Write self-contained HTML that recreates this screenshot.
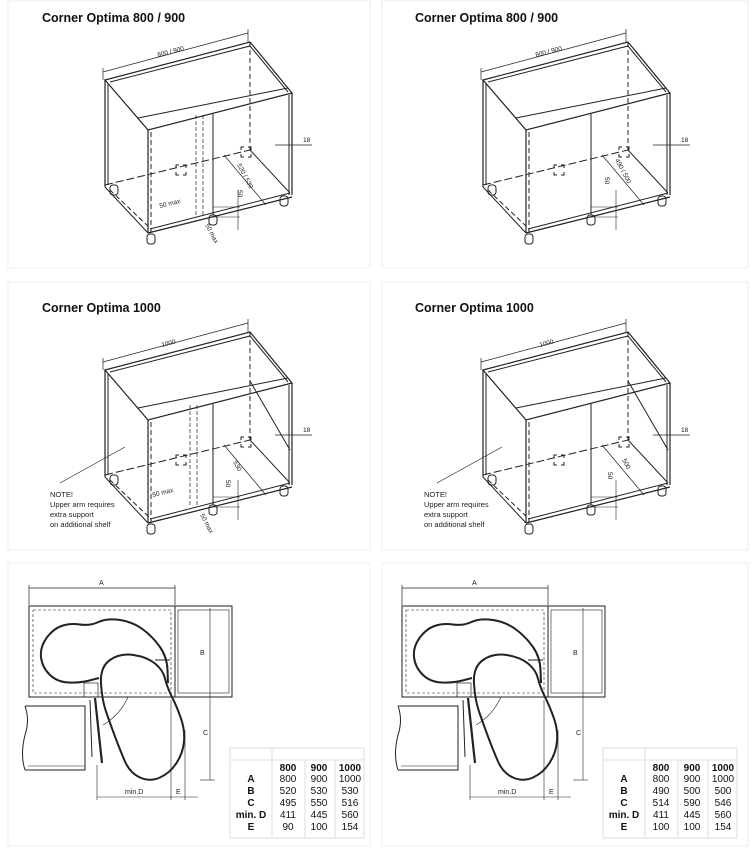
<!DOCTYPE html>
<html><head><meta charset="utf-8"><style>
html,body{margin:0;padding:0;background:#fff;}
svg{display:block;font-family:"Liberation Sans",sans-serif;}
</style></head><body>
<svg width="756" height="850" viewBox="0 0 756 850" xmlns="http://www.w3.org/2000/svg">
<defs>
<g id="cab" fill="none" stroke="#222" stroke-width="1">
  <line x1="103" y1="72" x2="248" y2="33" stroke-width="0.7"/>
  <line x1="103" y1="68" x2="103" y2="80" stroke-width="0.7"/>
  <line x1="248" y1="29" x2="248" y2="42" stroke-width="0.7"/>
  <polygon points="105,80 250,42 292,93 148,130" stroke-width="1.2"/>
  <polyline points="110,82 250,46 288,92"/>
  <line x1="138" y1="118" x2="288" y2="88"/>
  <line x1="105" y1="80" x2="105" y2="187" stroke-width="1.2"/>
  <line x1="108" y1="84" x2="108" y2="185"/>
  <line x1="148" y1="130" x2="148" y2="233" stroke-width="1.2"/>
  <line x1="151" y1="132" x2="151" y2="232" stroke-dasharray="5,3"/>
  <line x1="292" y1="93" x2="292" y2="195" stroke-width="1.2"/>
  <line x1="289" y1="95" x2="289" y2="195"/>
  <line x1="250" y1="42" x2="250" y2="150" stroke-dasharray="5,3"/>
  <line x1="213" y1="114" x2="213" y2="215" stroke-width="1"/>
  <line x1="148" y1="233" x2="292" y2="197" stroke-width="1.2"/>
  <line x1="150" y1="229" x2="290" y2="193"/>
  <line x1="105" y1="187" x2="148" y2="233"/>
  <line x1="110" y1="190" x2="150" y2="228" stroke-dasharray="5,3"/>
  <line x1="105" y1="185" x2="250" y2="150" stroke-dasharray="8,3"/>
  <line x1="250" y1="150" x2="290" y2="193"/>
  <line x1="224" y1="155" x2="266" y2="205" stroke-width="0.7"/>
  <line x1="275" y1="145" x2="312" y2="145" stroke-width="0.7"/>
  <line x1="213" y1="207" x2="240" y2="207" stroke-width="0.6"/>
  <line x1="213" y1="217" x2="240" y2="217" stroke-width="0.6"/>
  <line x1="238" y1="190" x2="238" y2="230" stroke-width="0.6"/>
  <rect x="110" y="185" width="8" height="10" rx="3"/>
  <rect x="147" y="234" width="8" height="10" rx="3"/>
  <rect x="209" y="215" width="8" height="10" rx="3"/>
  <rect x="280" y="196" width="8" height="10" rx="3"/>
  <path d="M176 168 v-3 h3 M183 165 h3 v3 M176 172 v3 h3 M186 172 v3 h-3" />
  <path d="M241 150 v-3 h3 M248 147 h3 v3 M241 154 v3 h3 M251 154 v3 h-3" />
</g>
<g id="plan" fill="none" stroke="#222">
  <line x1="29" y1="588" x2="175" y2="588" stroke-width="0.7"/>
  <line x1="29" y1="585" x2="29" y2="605" stroke-width="0.7"/>
  <line x1="175" y1="585" x2="175" y2="605" stroke-width="0.7"/>
  <rect x="29" y="606" width="146" height="91" stroke-width="1"/>
  <rect x="33" y="610" width="138" height="83" stroke-width="0.6" stroke-dasharray="3,2"/>
  <rect x="175" y="606" width="57" height="91" stroke-width="1"/>
  <rect x="178" y="610" width="51" height="83" stroke-width="0.6"/>
  <path d="M25 706 H85 V770 H25 M25 706 Q30 720 25 735 Q20 755 25 770" stroke-width="1"/>
  <path d="M28 766 H85" stroke-width="0.6"/>
  <rect x="84" y="683" width="14" height="14" stroke-width="0.7"/>
  <path d="M99 678 L89.5 680.5 Q80 683 68.5 682.5 Q57 682 49.5 674.5 Q42 667 41 657 Q40 647 46.5 638 Q53 629 61.5 626 Q70 623 80 624.5 Q90 626 98.5 622 Q107 618 120 620 Q133 622 143 629.5 Q153 637 160 647 Q167 657 167.5 670 L168 683" stroke-width="2"/>
  <path d="M110 660 Q120 653 133.5 655 Q147 657 155 663.5 Q163 670 165 678.5 Q167 687 172 697 Q177 707 181 718.5 Q185 730 184 741.5 Q183 753 176.5 763 Q170 773 160 777.5 Q150 782 140 777.5 Q130 773 125 761.5 Q120 750 115 736.5 Q110 723 106 711.5 Q102 700 101 683.5 Q100 667 110 660 Z" stroke-width="2"/>
  <line x1="155" y1="660" x2="170" y2="660" stroke-width="1"/>
  <line x1="95" y1="698" x2="102" y2="763" stroke-width="2.2"/>
  <line x1="90" y1="700" x2="92" y2="757" stroke-width="1"/>
  <line x1="210" y1="608" x2="210" y2="697" stroke-width="0.6"/>
  <line x1="210" y1="697" x2="210" y2="780" stroke-width="0.6"/>
  <line x1="200" y1="780" x2="215" y2="780" stroke-width="0.6"/>
  <line x1="97" y1="797" x2="198" y2="797" stroke-width="0.6"/>
  <line x1="97" y1="765" x2="97" y2="800" stroke-width="0.6"/>
  <line x1="171" y1="700" x2="171" y2="800" stroke-width="0.6"/>
  <line x1="185" y1="730" x2="185" y2="800" stroke-width="0.6"/>
  <path d="M103 725 Q120 715 128 697" stroke-width="0.6"/>
</g>
</defs>
<g fill="none" stroke="#eee">
  <rect x="8" y="1" width="362" height="267"/>
  <rect x="382" y="1" width="366" height="267"/>
  <rect x="8" y="282" width="362" height="268"/>
  <rect x="382" y="282" width="366" height="268"/>
  <rect x="8" y="563" width="362" height="283"/>
  <rect x="382" y="563" width="366" height="283"/>
</g>
<g font-weight="bold" font-size="12.5" fill="#111">
  <text x="42" y="22">Corner Optima 800 / 900</text>
  <text x="415" y="22">Corner Optima 800 / 900</text>
  <text x="42" y="312">Corner Optima 1000</text>
  <text x="415" y="312">Corner Optima 1000</text>
</g>
<use href="#cab"/>
<use href="#cab" transform="translate(378,0)"/>
<use href="#cab" transform="translate(0,290)"/>
<use href="#cab" transform="translate(378,290)"/>
<g font-size="6.5" fill="#222">
  <text x="158" y="57" transform="rotate(-14.5 158 57)">800 / 900</text>
  <text x="536" y="57" transform="rotate(-14.5 536 57)">800 / 900</text>
  <text x="162" y="347" transform="rotate(-14.5 162 347)">1000</text>
  <text x="540" y="347" transform="rotate(-14.5 540 347)">1000</text>
  <text x="303" y="142">18</text><text x="681" y="142">18</text>
  <text x="303" y="432">18</text><text x="681" y="432">18</text>
  <text x="160" y="208" transform="rotate(-14 160 208)">50 max</text>
  <text x="153" y="497" transform="rotate(-14 153 497)">50 max</text>
  <text x="237" y="165" transform="rotate(62 237 165)">520 / 530</text>
  <text x="615" y="160" transform="rotate(62 615 160)">490 / 500</text>
  <text x="233" y="462" transform="rotate(62 233 462)">530</text>
  <text x="622" y="460" transform="rotate(62 622 460)">500</text>
  <text x="205" y="225" transform="rotate(62 205 225)">50 max</text>
  <text x="200" y="515" transform="rotate(62 200 515)">50 max</text>
  <text x="238" y="190" transform="rotate(90 238 190)">50</text>
  <text x="605" y="177" transform="rotate(90 605 177)">50</text>
  <text x="226" y="480" transform="rotate(90 226 480)">50</text>
  <text x="608" y="472" transform="rotate(90 608 472)">50</text>
</g>
<g font-size="7.5" fill="#222">
  <text x="50" y="497">NOTE!</text><text x="50" y="507">Upper arm requires</text><text x="50" y="517">extra support</text><text x="50" y="527">on additional shelf</text>
  <text x="424" y="497">NOTE!</text><text x="424" y="507">Upper arm requires</text><text x="424" y="517">extra support</text><text x="424" y="527">on additional shelf</text>
</g>
<g stroke="#222" stroke-width="0.7" fill="none">
  <line x1="60" y1="483" x2="125" y2="447"/><line x1="437" y1="483" x2="502" y2="447"/>
  <line x1="196" y1="115" x2="196" y2="215" stroke-dasharray="4,2"/><line x1="203" y1="115" x2="203" y2="215" stroke-dasharray="4,2"/>
  <line x1="190" y1="405" x2="190" y2="505" stroke-dasharray="4,2"/><line x1="197" y1="405" x2="197" y2="505" stroke-dasharray="4,2"/>
  <line x1="250" y1="381" x2="290" y2="450" stroke-width="1"/><line x1="628" y1="381" x2="668" y2="450" stroke-width="1"/>
</g>
<use href="#plan"/>
<use href="#plan" transform="translate(373,0)"/>
<g font-size="7" fill="#222">
  <text x="99" y="585">A</text><text x="472" y="585">A</text>
  <text x="200" y="655">B</text><text x="573" y="655">B</text>
  <text x="203" y="735">C</text><text x="576" y="735">C</text>
  <text x="125" y="794">min.D</text><text x="498" y="794">min.D</text>
  <text x="176" y="794">E</text><text x="549" y="794">E</text>
</g>
<g font-size="10" fill="#111" text-anchor="middle">
  <g stroke="#ddd" fill="none"><rect x="230" y="748" width="134" height="90"/><line x1="272" y1="748" x2="272" y2="838"/><line x1="305" y1="760" x2="305" y2="838"/><line x1="335" y1="760" x2="335" y2="838"/><line x1="230" y1="760" x2="364" y2="760"/>
  <rect x="603" y="748" width="134" height="90"/><line x1="645" y1="748" x2="645" y2="838"/><line x1="678" y1="760" x2="678" y2="838"/><line x1="708" y1="760" x2="708" y2="838"/><line x1="603" y1="760" x2="737" y2="760"/></g>
  <g font-weight="bold"><text x="288" y="771">800</text><text x="319" y="771">900</text><text x="350" y="771">1000</text>
  <text x="251" y="782">A</text><text x="251" y="794">B</text><text x="251" y="806">C</text><text x="251" y="818">min. D</text><text x="251" y="830">E</text>
  <text x="661" y="771">800</text><text x="692" y="771">900</text><text x="723" y="771">1000</text>
  <text x="624" y="782">A</text><text x="624" y="794">B</text><text x="624" y="806">C</text><text x="624" y="818">min. D</text><text x="624" y="830">E</text></g>
  <text x="288" y="782">800</text><text x="319" y="782">900</text><text x="350" y="782">1000</text>
  <text x="288" y="794">520</text><text x="319" y="794">530</text><text x="350" y="794">530</text>
  <text x="288" y="806">495</text><text x="319" y="806">550</text><text x="350" y="806">516</text>
  <text x="288" y="818">411</text><text x="319" y="818">445</text><text x="350" y="818">560</text>
  <text x="288" y="830">90</text><text x="319" y="830">100</text><text x="350" y="830">154</text>
  <text x="661" y="782">800</text><text x="692" y="782">900</text><text x="723" y="782">1000</text>
  <text x="661" y="794">490</text><text x="692" y="794">500</text><text x="723" y="794">500</text>
  <text x="661" y="806">514</text><text x="692" y="806">590</text><text x="723" y="806">546</text>
  <text x="661" y="818">411</text><text x="692" y="818">445</text><text x="723" y="818">560</text>
  <text x="661" y="830">100</text><text x="692" y="830">100</text><text x="723" y="830">154</text>
</g>
</svg>
</body></html>
